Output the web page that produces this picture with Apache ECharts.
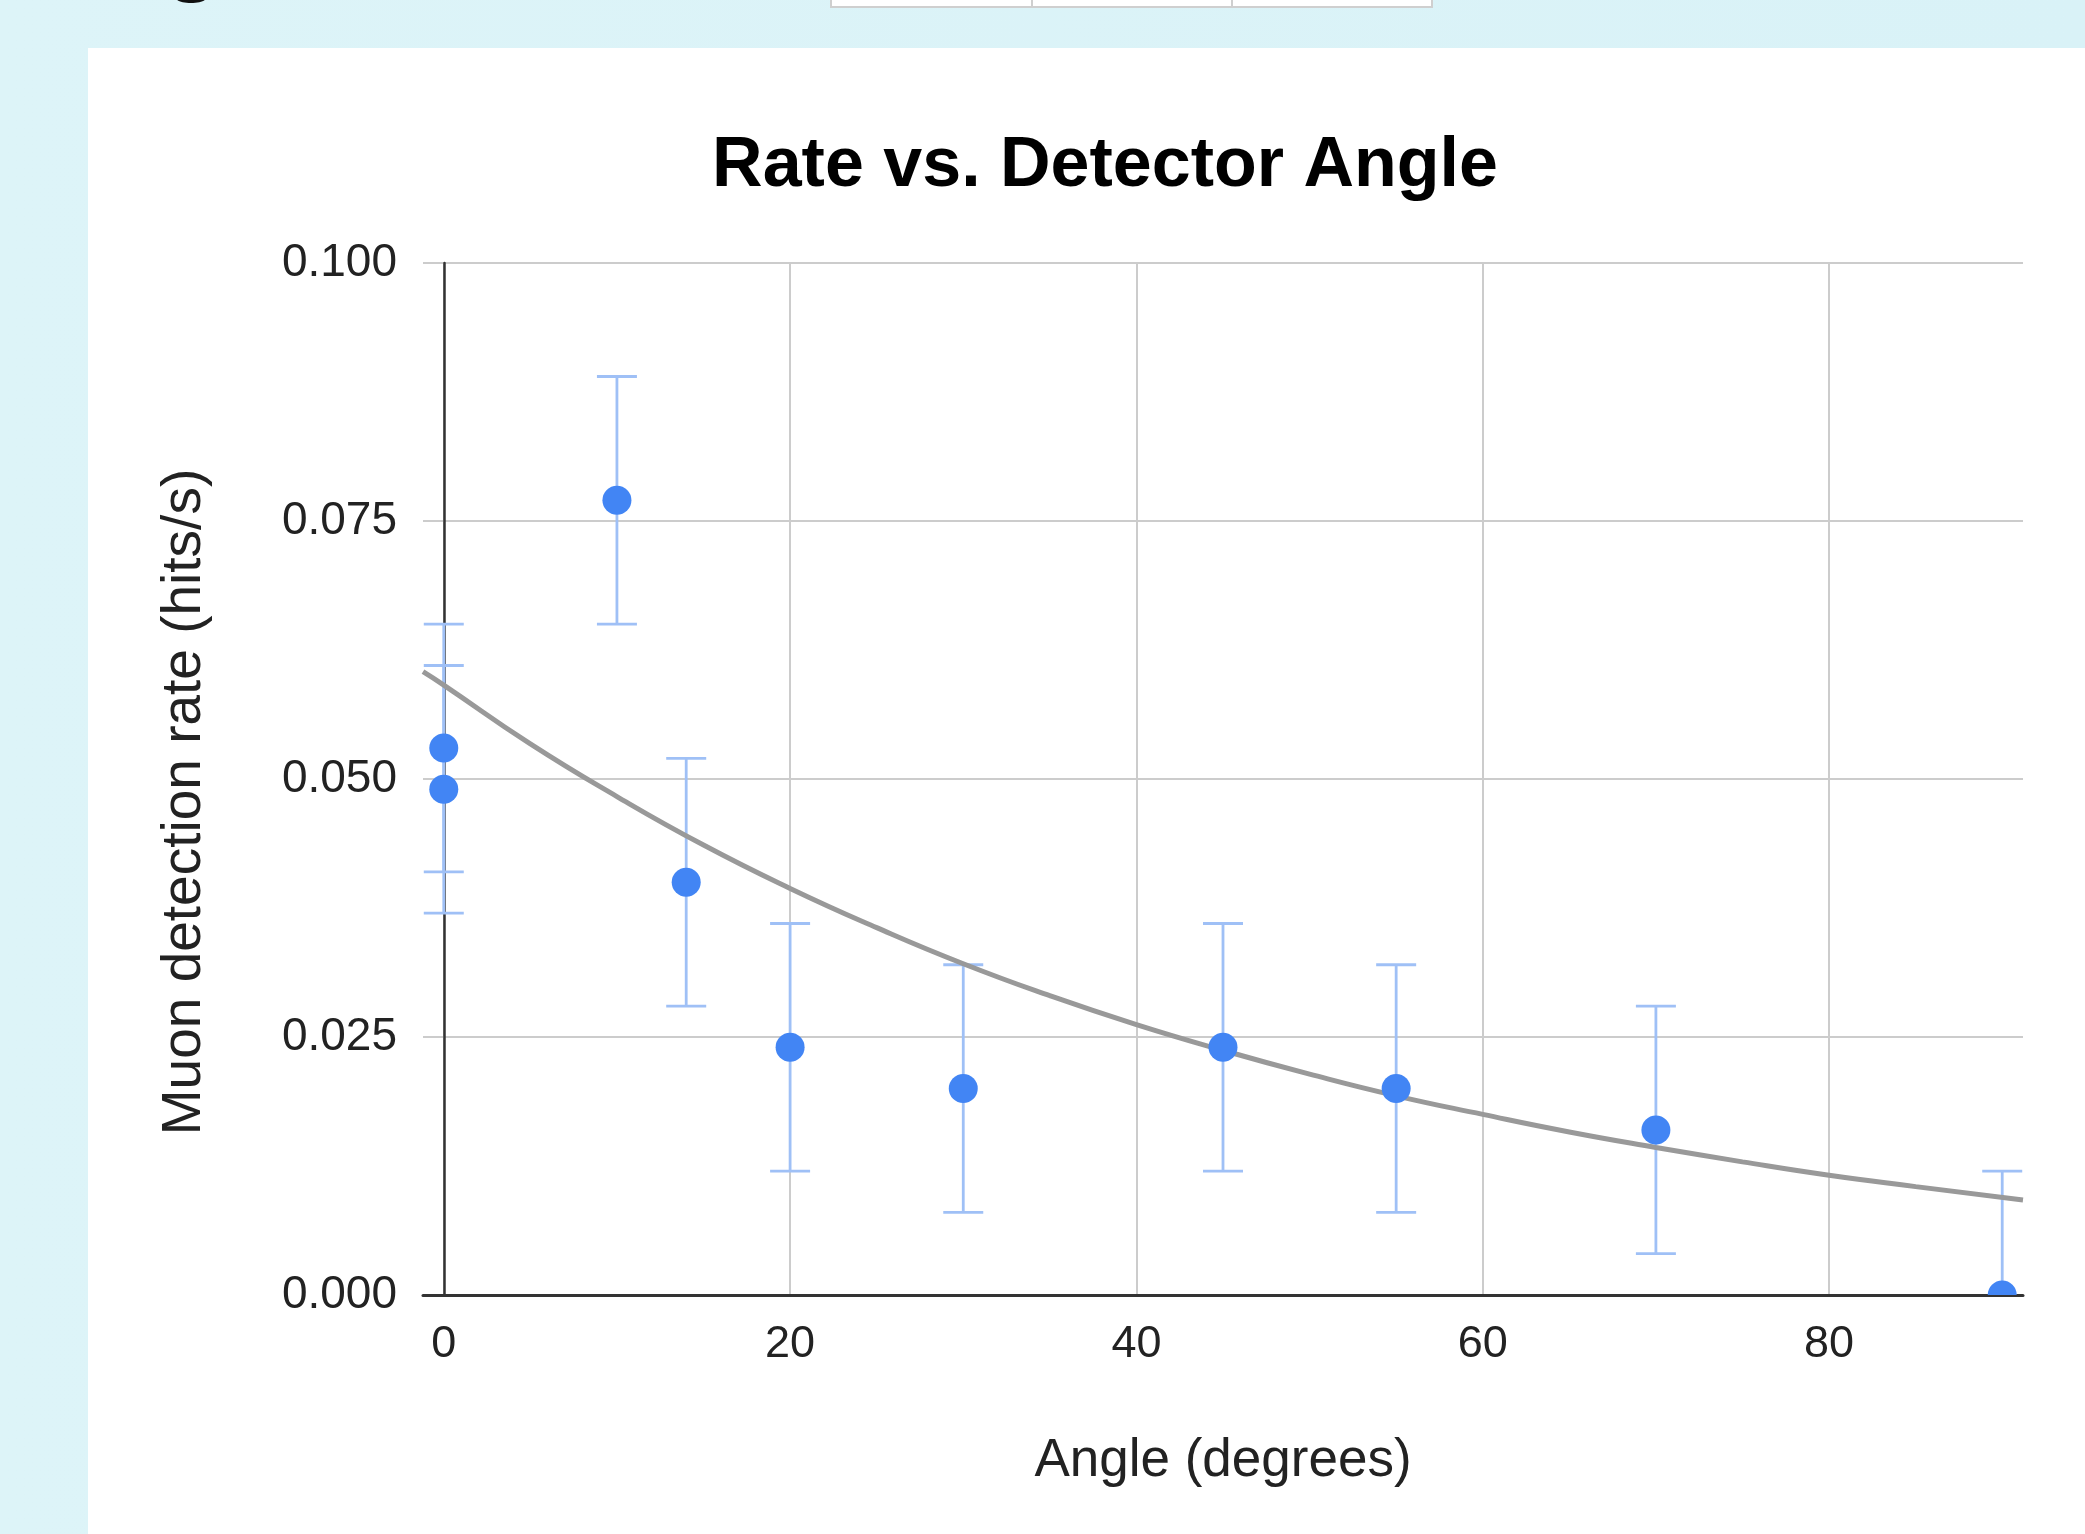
<!DOCTYPE html>
<html>
<head>
<meta charset="utf-8">
<script src="https://cdn.jsdelivr.net/npm/echarts@6/dist/echarts.min.js"></script>
<style>
  html, body { margin: 0; padding: 0; width: 2085px; height: 1534px; overflow: hidden;
    background: linear-gradient(90deg, #ddf4f8 0%, #d9f2f7 100%); }
  #panel { position: absolute; left: 88px; top: 48px; width: 1997px; height: 1486px; background: #ffffff; }
  #main { position: absolute; left: 0; top: 0; width: 2085px; height: 1534px; }
</style>
</head>
<body>
<div id="panel"></div>
<div id="main"></div>
<script>
// ---- data ----
const angles = [0, 0, 10, 14, 20, 30, 45, 55, 70, 90];
const rates  = [0.053, 0.049, 0.077, 0.040, 0.024, 0.020, 0.024, 0.020, 0.016, 0.000];
const errors = [0.012, 0.012, 0.012, 0.012, 0.012, 0.012, 0.012, 0.012, 0.012, 0.012];

// trendline points
const trendX = [-1.2, 0, 5, 10, 15, 20, 25, 30, 35, 40, 45, 50, 55, 60, 65, 70, 75, 80, 85, 91.2];
const trendY = [0.0604, 0.0591, 0.0534, 0.0483, 0.0436, 0.0394, 0.0356, 0.0321, 0.0290, 0.0262,
                0.0237, 0.0214, 0.0193, 0.0175, 0.0158, 0.0143, 0.0129, 0.0116, 0.0105, 0.0092];

const xTicks = [0, 20, 40, 60, 80];
const yTicks = [0, 0.025, 0.05, 0.075, 0.1];

const titleText = 'Rate vs. Detector Angle';
const xTitle = 'Angle (degrees)';
const yTitle = 'Muon detection rate (hits/s)';

// ---- build series data ----
const pointData = angles.map((a, i) => [a, rates[i]]);
const errData = angles.map((a, i) => [a, rates[i] - errors[i], rates[i] + errors[i]]);
const trendData = trendX.map((x, i) => [x, trendY[i]]);

const FONT = "'Liberation Sans', Arial, sans-serif";
const chart = echarts.init(document.getElementById('main'), null, { renderer: 'canvas' });

chart.setOption({
  backgroundColor: 'transparent',
  animation: false,
  title: {
    text: titleText,
    left: 1100,
    top: 127,
    textAlign: 'center',
    textStyle: { fontFamily: FONT, fontSize: 70, fontWeight: 'bold', color: '#000000' }
  },
  graphic: [
    { type: 'rect', shape: { x: 831, y: -4, width: 601, height: 11 },
      style: { fill: '#ffffff', stroke: '#cfcfcf', lineWidth: 2 } },
    { type: 'line', shape: { x1: 1032, y1: 0, x2: 1032, y2: 7 }, style: { stroke: '#cfcfcf', lineWidth: 2 } },
    { type: 'line', shape: { x1: 1232, y1: 0, x2: 1232, y2: 7 }, style: { stroke: '#cfcfcf', lineWidth: 2 } },
    { type: 'ellipse', shape: { cx: 191, cy: -2, rx: 15, ry: 5 }, style: { fill: '#111111' } }
  ],
  grid: { left: 423, right: 62, top: 263, bottom: 239, containLabel: false },
  xAxis: {
    type: 'value',
    min: -1.2,
    max: 91.2,
    name: xTitle,
    nameLocation: 'middle',
    nameGap: 140,
    nameTextStyle: { fontFamily: FONT, fontSize: 53, color: '#222222' },
    axisLine: { show: true, onZero: true, lineStyle: { color: '#333333', width: 3 } },
    axisTick: { show: false, customValues: xTicks },
    axisLabel: { customValues: xTicks, fontFamily: FONT, fontSize: 45, color: '#222222', margin: 27 },
    splitLine: { show: true, lineStyle: { color: '#cccccc', width: 2 } }
  },
  yAxis: {
    type: 'value',
    min: 0,
    max: 0.1,
    interval: 0.025,
    name: yTitle,
    nameLocation: 'middle',
    nameGap: 211,
    nameRotate: 90,
    nameTextStyle: { fontFamily: FONT, fontSize: 55, color: '#222222', padding: [0, 46, 0, 0] },
    axisLine: { show: true, onZero: true, lineStyle: { color: '#333333', width: 2.5 } },
    axisTick: { show: false },
    axisLabel: {
      fontFamily: FONT, fontSize: 46, color: '#222222', margin: 26,
      formatter: v => v.toFixed(3)
    },
    splitLine: { show: true, lineStyle: { color: '#cccccc', width: 2 } }
  },
  series: [
    {
      type: 'custom',
      name: 'error',
      clip: true,
      z: 1,
      data: errData,
      renderItem: function (params, api) {
        const x = api.value(0);
        const lo = api.coord([x, api.value(1)]);
        const hi = api.coord([x, api.value(2)]);
        const hw = 20;
        const st = { stroke: '#9fc0f6', lineWidth: 2.8 };
        return {
          type: 'group',
          children: [
            { type: 'line', shape: { x1: lo[0], y1: lo[1], x2: hi[0], y2: hi[1] }, style: st },
            { type: 'line', shape: { x1: lo[0] - hw, y1: lo[1], x2: lo[0] + hw, y2: lo[1] }, style: st },
            { type: 'line', shape: { x1: hi[0] - hw, y1: hi[1], x2: hi[0] + hw, y2: hi[1] }, style: st }
          ]
        };
      }
    },
    {
      type: 'line',
      name: 'trend',
      data: trendData,
      smooth: true,
      showSymbol: false,
      symbol: 'none',
      z: 2,
      lineStyle: { color: '#999999', width: 5 }
    },
    {
      type: 'custom',
      name: 'rate',
      data: pointData,
      clip: true,
      z: 3,
      renderItem: function (params, api) {
        const p = api.coord([api.value(0), api.value(1)]);
        return {
          type: 'circle',
          shape: { cx: p[0], cy: p[1], r: 14.5 },
          style: { fill: '#4285f4' }
        };
      }
    }
  ]
});
</script>
</body>
</html>
